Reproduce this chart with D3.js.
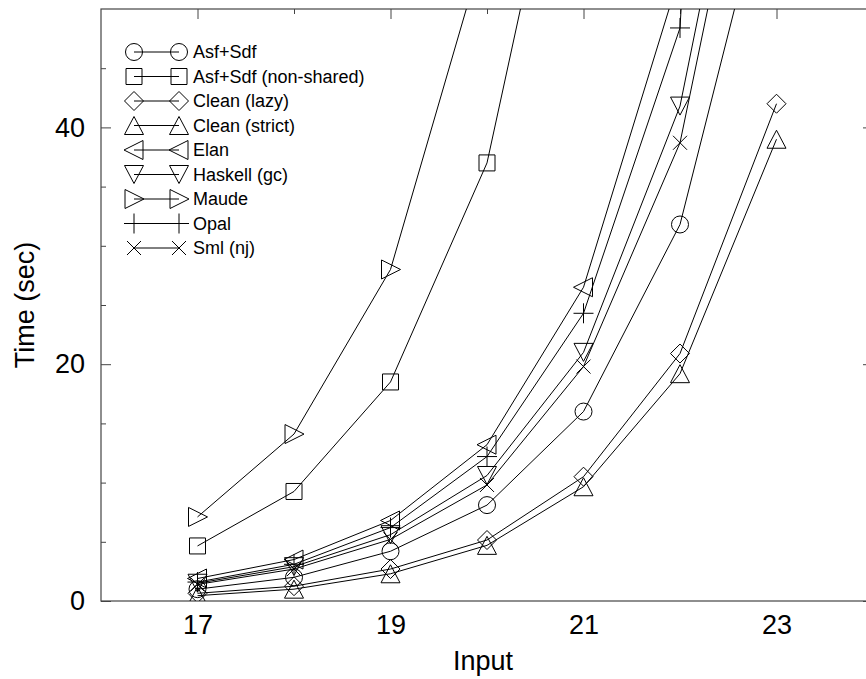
<!DOCTYPE html>
<html>
<head>
<meta charset="utf-8">
<script src="https://cdn.jsdelivr.net/npm/d3@7"></script>
<style>
  body { margin: 0; background: #fff; }
  text { font-family: "Liberation Sans", Arial, sans-serif; fill: #000; }
</style>
</head>
<body>
<div class="canvas"></div>
<script>
// data - values
const inputs = [17, 18, 19, 20, 21, 22, 23];

const asfSdf          = [1.0, 2.0, 4.2, 8.1, 16.0, 31.8, 64];
const asfSdfNonShared = [4.65, 9.25, 18.5, 37.0, 74.5, null, null];
const cleanLazy       = [0.65, 1.25, 2.7, 5.15, 10.5, 20.9, 42.0];
const cleanStrict     = [0.45, 1.0, 2.3, 4.7, 9.65, 19.2, 39.0];
const elan            = [1.9, 3.5, 6.8, 13.2, 26.5, 53, null];
const haskell         = [1.5, 2.9, 5.6, 10.6, 21.0, 41.8, 82];
const maude           = [7.1, 14.1, 28.0, 56, null, null, null];
const opal            = [1.6, 3.1, 6.2, 12.2, 24.3, 48.4, 190];
const sml             = [1.4, 2.7, 5.2, 9.8, 19.8, 38.7, 78];

const seriesNames = ['Asf+Sdf', 'Asf+Sdf (non-shared)', 'Clean (lazy)', 'Clean (strict)',
    'Elan', 'Haskell (gc)', 'Maude', 'Opal', 'Sml (nj)'];
const seriesValues = [asfSdf, asfSdfNonShared, cleanLazy, cleanStrict,
    elan, haskell, maude, opal, sml];
const seriesShapes = ['circle', 'square', 'diamond', 'up', 'left', 'down', 'right', 'plus', 'cross'];

const majorX = [17, 19, 21, 23];
const minorX = [18, 20, 22];
const majorY = [0, 20, 40];
const minorY = [5, 10, 15, 25, 30, 35, 45];

// setup svg
const width = 866;
const height = 679;
const svg = d3.select('.canvas')
    .append('svg')
    .attr('width', width)
    .attr('height', height);

// plot box (right edge runs just past the window)
const box = { left: 101, right: 873, top: 9, bottom: 601 };

// scales
const x = d3.scaleLinear().domain([16, 24]).range([box.left, box.right]);
const y = d3.scaleLinear().domain([0, 50]).range([box.bottom, box.top]);

// clip so lines that leave the top stop at the border
svg.append('clipPath').attr('id', 'plot-clip')
    .append('rect')
    .attr('x', box.left).attr('y', box.top)
    .attr('width', box.right - box.left).attr('height', box.bottom - box.top);

// axes - ticks point inward, gnuplot style
const styleAxis = (g) => {
    g.select('.domain').remove();
    g.selectAll('line').attr('stroke', '#444');
    g.selectAll('text').style('font-size', '27px');
};

svg.append('g')
    .attr('transform', `translate(${box.left},0)`)
    .call(d3.axisLeft(y).tickValues(majorY).tickSize(-10).tickPadding(16).tickFormat(d3.format('d')))
    .call(styleAxis);
svg.append('g')
    .attr('transform', `translate(${box.left},0)`)
    .call(d3.axisLeft(y).tickValues(minorY).tickSize(-5).tickFormat(''))
    .call(styleAxis);
svg.append('g')
    .attr('transform', `translate(${box.right},0)`)
    .call(d3.axisRight(y).tickValues(majorY).tickSize(-10).tickFormat(''))
    .call(styleAxis);
svg.append('g')
    .attr('transform', `translate(${box.right},0)`)
    .call(d3.axisRight(y).tickValues(minorY).tickSize(-5).tickFormat(''))
    .call(styleAxis);
svg.append('g')
    .attr('transform', `translate(0,${box.top})`)
    .call(d3.axisTop(x).tickValues(majorX).tickSize(-10).tickFormat(''))
    .call(styleAxis);
svg.append('g')
    .attr('transform', `translate(0,${box.top})`)
    .call(d3.axisTop(x).tickValues(minorX).tickSize(-5).tickFormat(''))
    .call(styleAxis);
svg.append('g')
    .attr('transform', `translate(0,${box.bottom})`)
    .call(d3.axisBottom(x).tickValues(majorX).tickSize(0).tickPadding(14).tickFormat(d3.format('d')))
    .call(styleAxis);

// border
svg.append('rect')
    .attr('x', box.left).attr('y', box.top)
    .attr('width', box.right - box.left).attr('height', box.bottom - box.top)
    .attr('fill', 'none')
    .attr('stroke', '#444')
    .attr('stroke-width', 1.2);

// axis titles
svg.append('text')
    .attr('x', (box.left + box.right) / 2 - 4)
    .attr('y', 670)
    .attr('text-anchor', 'middle')
    .style('font-size', '27px')
    .text('Input');
svg.append('text')
    .attr('transform', `translate(34,${(box.top + box.bottom) / 2}) rotate(-90)`)
    .attr('text-anchor', 'middle')
    .style('font-size', '27px')
    .text('Time (sec)');

// marker paths, centred on 0,0
const marker = (shape) => {
    const p = d3.path();
    switch (shape) {
        case 'circle':
            p.moveTo(8.5, 0);
            p.arc(0, 0, 8.5, 0, 2 * Math.PI);
            break;
        case 'square':
            p.rect(-8, -8, 16, 16);
            break;
        case 'diamond':
            p.moveTo(0, -9.5); p.lineTo(9.5, 0); p.lineTo(0, 9.5); p.lineTo(-9.5, 0); p.closePath();
            break;
        case 'up':
            p.moveTo(0, -9); p.lineTo(9.5, 9); p.lineTo(-9.5, 9); p.closePath();
            break;
        case 'down':
            p.moveTo(0, 9); p.lineTo(9.5, -9); p.lineTo(-9.5, -9); p.closePath();
            break;
        case 'left':
            p.moveTo(-10, 0); p.lineTo(9, -9.5); p.lineTo(9, 9.5); p.closePath();
            break;
        case 'right':
            p.moveTo(10, 0); p.lineTo(-9, -9.5); p.lineTo(-9, 9.5); p.closePath();
            break;
        case 'plus':
            p.moveTo(-10, 0); p.lineTo(10, 0); p.moveTo(0, -10); p.lineTo(0, 10);
            break;
        case 'cross':
            p.moveTo(-7, -7); p.lineTo(7, 7); p.moveTo(-7, 7); p.lineTo(7, -7);
            break;
        default:
            break;
    }
    return p.toString();
};

// build series table
const series = seriesNames.map((name, i) => ({
    name: name,
    shape: seriesShapes[i],
    points: inputs.map((v, j) => ({ input: v, time: seriesValues[i][j] }))
        .filter(d => d.time !== null)
}));

const line = d3.line()
    .x(d => x(d.input))
    .y(d => y(d.time));

const plot = svg.append('g').attr('clip-path', 'url(#plot-clip)');

const groups = plot.selectAll('g.series')
    .data(series)
    .enter()
    .append('g')
    .attr('class', 'series');

groups.append('path')
    .attr('d', d => line(d.points))
    .attr('fill', 'none')
    .attr('stroke', '#000')
    .attr('stroke-width', 1);

groups.selectAll('path.mark')
    .data(d => d.points.map(p => ({ ...p, shape: d.shape })))
    .enter()
    .append('path')
    .attr('class', 'mark')
    .attr('d', d => marker(d.shape))
    .attr('transform', d => `translate(${x(d.input)},${y(d.time)})`)
    .attr('fill', 'none')
    .attr('stroke', '#000')
    .attr('stroke-width', 1);

// legend
const legend = svg.append('g');
const rowY = (i) => 52 + i * 24.5;
const legLeft = 134;
const legRight = 179;

series.forEach((s, i) => {
    const row = legend.append('g').attr('transform', `translate(0,${rowY(i)})`);
    row.append('line')
        .attr('x1', legLeft).attr('x2', legRight)
        .attr('y1', 0).attr('y2', 0)
        .attr('stroke', '#000');
    [legLeft, legRight].forEach(cx => {
        row.append('path')
            .attr('d', marker(s.shape))
            .attr('transform', `translate(${cx},0)`)
            .attr('fill', 'none')
            .attr('stroke', '#000');
    });
    row.append('text')
        .attr('x', 193)
        .attr('y', 0)
        .attr('dy', '0.36em')
        .style('font-size', '18px')
        .text(s.name);
});
</script>
</body>
</html>
